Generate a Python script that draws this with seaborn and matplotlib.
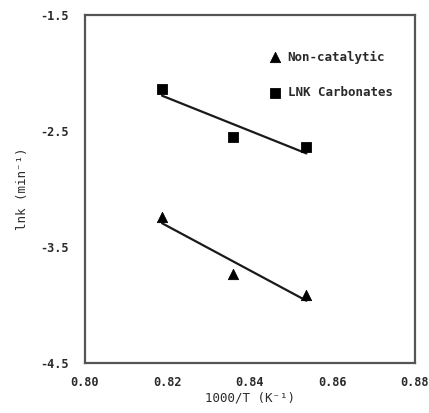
import numpy as np
import pandas as pd
import matplotlib
matplotlib.use("Agg")
import matplotlib.pyplot as plt
import seaborn as sns

# valores
inv_t = [0.8187, 0.8358, 0.8537]
lnk_nao_catalitico = [-3.24, -3.73, -3.91]
lnk_carbonatos = [-2.14, -2.55, -2.64]
xticks = [0.80, 0.82, 0.84, 0.86, 0.88]
yticks = [-4.5, -3.5, -2.5, -1.5]

sns.set_theme(style="white")
plt.rcParams['font.family'] = ['DejaVu Sans Mono', 'DejaVu Sans']
plt.rcParams['font.weight'] = 'bold'

df = pd.DataFrame({
    'x': inv_t * 2,
    'y': lnk_nao_catalitico + lnk_carbonatos,
    'serie': ['Non-catalytic'] * 3 + ['LNK Carbonates'] * 3,
})

fig = plt.figure(figsize=(4.29, 4.13), dpi=100)
ax = fig.add_axes([0.198, 0.121, 0.769, 0.843])

cor_txt = '#2a2a2a'

for serie, marca in [('Non-catalytic', '^'), ('LNK Carbonates', 's')]:
    sub = df[df['serie'] == serie]
    sns.regplot(data=sub, x='x', y='y', ax=ax, scatter=False, ci=None,
                color='#1a1a1a', line_kws={'lw': 1.6})
    sns.scatterplot(data=sub, x='x', y='y', ax=ax, marker=marca, s=55,
                    color='black', edgecolor='black', label=serie, zorder=3)

ax.set_xlim(0.80, 0.88)
ax.set_ylim(-4.5, -1.5)
ax.set_xticks(xticks)
ax.set_yticks(yticks)
ax.set_xticklabels([f'{v:.2f}' for v in xticks])
ax.set_yticklabels([f'{v:.1f}' for v in yticks])
ax.tick_params(direction='in', length=3, width=0.8, colors='#777777',
               labelcolor=cor_txt, labelsize=8.6, pad=12)
ax.tick_params(axis='x', pad=9)

for s in ax.spines.values():
    s.set_visible(True)
    s.set_color('#555555')
    s.set_linewidth(1.6)

ax.set_xlabel('1000/T (K\u207b\u00b9)', fontsize=9, color=cor_txt, labelpad=2)
ax.set_ylabel('lnk (min\u207b\u00b9)', fontsize=9, color=cor_txt, labelpad=8)

leg = ax.legend(loc='upper left', bbox_to_anchor=(0.52, 0.93), frameon=False,
                fontsize=9, labelspacing=1.8, handletextpad=0.4,
                handlelength=1.2, markerscale=1.0)
for t in leg.get_texts():
    t.set_color(cor_txt)

fig.savefig('out.png', dpi=100)
